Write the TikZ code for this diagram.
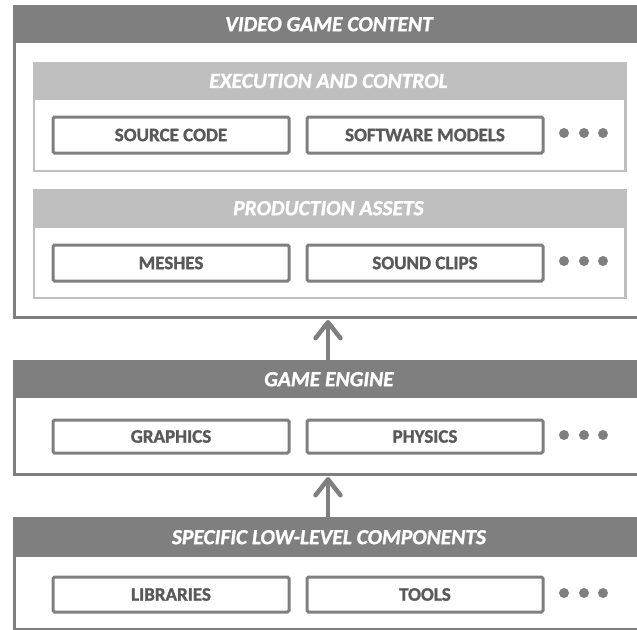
\documentclass[tikz,border=0pt]{standalone}
\usepackage{fontspec}
\setmainfont{Carlito}[BoldFeatures={FakeBold=1.3}, BoldItalicFeatures={FakeBold=1.3}]
\usetikzlibrary{arrows.meta}
\definecolor{framegray}{HTML}{7F7F7F}
\definecolor{subgray}{HTML}{BFBFBF}
\definecolor{itemgray}{HTML}{595959}

\begin{document}
\begin{tikzpicture}[x=1pt,y=-1pt,
  layerbox/.style={draw=framegray, line width=3pt, fill=white, anchor=north west,
    inner sep=0pt, minimum width=632.5pt},
  layerhead/.style={fill=framegray, anchor=north west, inner sep=0pt,
    minimum width=632.5pt, minimum height=38pt, text=white,
    font=\fontsize{21.5}{25}\selectfont\bfseries\itshape},
  groupbox/.style={draw=subgray, line width=2.5pt, fill=white, anchor=north west,
    inner sep=0pt, minimum width=591.5pt, minimum height=108pt},
  grouphead/.style={fill=subgray, anchor=north west, inner sep=0pt,
    minimum width=591.5pt, minimum height=39pt, text=white,
    font=\fontsize{21.5}{25}\selectfont\bfseries\itshape},
  itembox/.style={draw=framegray, line width=3pt, rounded corners=1.5pt, fill=white,
    anchor=north west, inner sep=0pt, minimum width=236pt, minimum height=36pt,
    text=itemgray, font=\fontsize{19}{22}\selectfont\bfseries},
  moredot/.style={circle, fill=framegray, inner sep=0pt, minimum size=10pt},
  uparrow/.style={draw=framegray, line width=4.5pt,
    -{Straight Barb[round, length=16pt, width=25pt]}}
]
\useasboundingbox (0,0) rectangle (637,629);
\clip (0,0) rectangle (637,629);

% Top layer: video game content
\node[layerbox, minimum height=310.5pt] (vgc) at (12.5,5) {};
\node[layerhead] (vgchead) at (12.5,5) {VIDEO GAME CONTENT};

\node[groupbox] (exec) at (32.5,61.5) {};
\node[grouphead, minimum height=38.5pt] (exechead) at (32.5,61.5) {EXECUTION AND CONTROL};
\node[itembox] (src) at (51.5,115.5) {SOURCE CODE};
\node[itembox] (models) at (305.5,115.5) {SOFTWARE MODELS};
\node[moredot] (ea) at (564,133) {};
\node[moredot] (eb) at (584,133) {};
\node[moredot] (ec) at (603,133) {};

\node[groupbox] (prod) at (32.5,188.5) {};
\node[grouphead] (prodhead) at (32.5,188.5) {PRODUCTION ASSETS};
\node[itembox] (meshes) at (51.5,243.5) {MESHES};
\node[itembox] (sound) at (305.5,243.5) {SOUND CLIPS};
\node[moredot] (pa) at (564,261) {};
\node[moredot] (pb) at (584,261) {};
\node[moredot] (pc) at (603,261) {};

% Middle layer: game engine
\node[layerbox, minimum height=112.5pt] (ge) at (12.5,360) {};
\node[layerhead] (gehead) at (12.5,360) {GAME ENGINE};
\node[itembox, minimum height=33pt] (graphics) at (51.5,418.5) {GRAPHICS};
\node[itembox, minimum height=33pt] (physics) at (305.5,418.5) {PHYSICS};
\node[moredot] (ga) at (564,435) {};
\node[moredot] (gb) at (584,435) {};
\node[moredot] (gc) at (603,435) {};

% Bottom layer: low-level components
\node[layerbox, minimum height=110.5pt] (slc) at (12.5,517) {};
\node[layerhead, minimum height=40pt] (slchead) at (12.5,517) {SPECIFIC LOW-LEVEL COMPONENTS};
\node[itembox, minimum height=35pt] (libs) at (51.5,575.5) {LIBRARIES};
\node[itembox, minimum height=35pt] (tools) at (305.5,575.5) {TOOLS};
\node[moredot] (sa) at (564,593) {};
\node[moredot] (sb) at (584,593) {};
\node[moredot] (sc) at (603,593) {};

% Dependencies between layers
\coordinate (axis) at (328,0);
\draw[uparrow] (gehead.north -| axis) -- ([yshift=-1.5pt]vgc.south -| axis);
\draw[uparrow] (slchead.north -| axis) -- ([yshift=-1.5pt]ge.south -| axis);
\end{tikzpicture}
\end{document}
